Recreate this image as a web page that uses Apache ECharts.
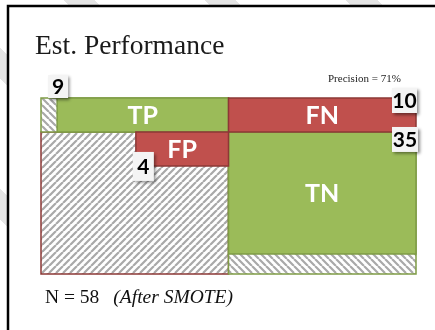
<!DOCTYPE html>
<html>
<head>
<meta charset="utf-8">
<script src="https://cdn.jsdelivr.net/npm/echarts@6/dist/echarts.min.js"></script>
<style>
  html, body { margin: 0; padding: 0; }
  body {
    width: 435px; height: 330px; overflow: hidden;
    background: repeating-linear-gradient(45deg, #ffffff 0px, #ffffff 78px, #e4e4e4 78px, #e4e4e4 100px);
  }
  #chart { width: 435px; height: 330px; }
</style>
</head>
<body>
<div id="chart"></div>
<script>
// Confusion-matrix cells and their counts
const cellNames = ['TP', 'FN', 'FP', 'TN'];
const cellCounts = [9, 10, 4, 35];

// Estimated shares of the mosaic (percent of width / height)
const columnSplit = 50;     // predicted-positive column | predicted-negative column
const topRowShare = 19.3;   // height of the TP / FN row
const tpMissShare = 4.3;    // unrealised part of the TP row
const fpStartShare = 25.3;  // where the FP block starts
const fpRowShare = 38.6;    // bottom of the FP block
const tnShare = 88.6;       // bottom of the TN block

const precisionText = 'Precision = 71%';
const titleText = 'Est. Performance';
const sampleText = 'N = 58';
const sampleNote = '(After SMOTE)';

const GREEN = '#9bbb59', GREEN_EDGE = '#7f9c45';
const RED = '#c0504d', RED_EDGE = '#8c3836';

function hatch(dir) {
  const s = 7;
  const c = document.createElement('canvas');
  c.width = s; c.height = s;
  const g = c.getContext('2d');
  g.fillStyle = '#ffffff';
  g.fillRect(0, 0, s, s);
  g.strokeStyle = '#a9a9a9';
  g.lineWidth = 2.2;
  g.beginPath();
  for (let k = -1; k <= 1; k++) {
    if (dir === '/') {
      g.moveTo(k * s, s); g.lineTo(k * s + s, 0);
    } else {
      g.moveTo(k * s, 0); g.lineTo(k * s + s, s);
    }
  }
  g.stroke();
  return { image: c, repeat: 'repeat' };
}
const hatchUp = hatch('/');
const hatchDown = hatch('\\');

// rectangles: [x0, x1, y0, y1, fillKey, edgeKey, nameIndex]
const rects = [
  [0, columnSplit, topRowShare, 100, 'up', 'red', -1],
  [columnSplit, 100, topRowShare, 100, 'down', 'green', -1],
  [columnSplit, 100, topRowShare, tnShare, 'green', 'green', 3],
  [0, columnSplit, 0, topRowShare, 'down', 'green', -1],
  [tpMissShare, columnSplit, 0, topRowShare, 'green', 'green', 0],
  [columnSplit, 100, 0, topRowShare, 'red', 'red', 1],
  [fpStartShare, columnSplit, topRowShare, fpRowShare, 'red', 'red', 2]
];
const fills = { up: hatchUp, down: hatchDown, green: GREEN, red: RED };
const edges = { green: GREEN_EDGE, red: RED_EDGE };

// count badges: corner they sit on (data space) and box extent around it (px)
const badges = [
  { i: 0, at: [tpMissShare, 0], box: [-9, -23, 20, 23] },
  { i: 1, at: [100, 0], box: [-24, -10, 25, 25] },
  { i: 3, at: [100, topRowShare], box: [-24, -5, 26, 25] },
  { i: 2, at: [fpStartShare, fpRowShare], box: [-3, -14, 21, 29] }
];

const chart = echarts.init(document.getElementById('chart'), null, { renderer: 'canvas' });

const option = {
  backgroundColor: 'transparent',
  animation: false,
  grid: { left: 41, right: 19, top: 98, bottom: 56 },
  xAxis: { type: 'value', min: 0, max: 100, show: false },
  yAxis: { type: 'value', min: 0, max: 100, inverse: true, show: false },
  graphic: [
    { type: 'rect', z: -10, shape: { x: 8, y: 6, width: 500, height: 400 },
      style: { fill: '#ffffff', stroke: '#000000', lineWidth: 2.5 } },
    { type: 'text', left: 35, top: 33,
      style: { text: titleText, font: '27.5px "Liberation Serif"', fill: '#1a1a1a' } },
    { type: 'text', left: 328, top: 74,
      style: { text: precisionText, font: '11px "Liberation Serif"', fill: '#222' } },
    { type: 'text', left: 45, top: 288,
      style: {
        text: '{a|' + sampleText + '}{s| }{b|' + sampleNote + '}',
        rich: {
          a: { font: '19.5px "Liberation Serif"', fill: '#111' },
          s: { font: '19.5px "Liberation Serif"', width: 14 },
          b: { font: 'italic 19.5px "Liberation Serif"', fill: '#111' }
        }
      } }
  ],
  series: [
    {
      type: 'custom',
      data: rects,
      coordinateSystem: 'cartesian2d',
      renderItem: function (params, api) {
        const p0 = api.coord([api.value(0), api.value(2)]);
        const p1 = api.coord([api.value(1), api.value(3)]);
        const r = rects[params.dataIndex];
        const children = [{
          type: 'rect',
          shape: { x: p0[0], y: p0[1], width: p1[0] - p0[0], height: p1[1] - p0[1] },
          style: { fill: fills[r[4]], stroke: edges[r[5]], lineWidth: 1.5 }
        }];
        if (r[6] >= 0) {
          children.push({
            type: 'text',
            style: {
              text: cellNames[r[6]],
              x: (p0[0] + p1[0]) / 2, y: (p0[1] + p1[1]) / 2 + 1,
              align: 'center', verticalAlign: 'middle',
              font: 'bold 25px Lato', fill: '#ffffff'
            }
          });
        }
        return { type: 'group', children: children };
      }
    },
    {
      type: 'custom',
      data: badges.map(b => [b.at[0], b.at[1], cellCounts[b.i]]),
      coordinateSystem: 'cartesian2d',
      z: 5,
      renderItem: function (params, api) {
        const b = badges[params.dataIndex];
        const p = api.coord([api.value(0), api.value(1)]);
        const x = p[0] + b.box[0], y = p[1] + b.box[1];
        return {
          type: 'group',
          children: [
            {
              type: 'rect',
              shape: { x: x, y: y, width: b.box[2], height: b.box[3] },
              style: {
                fill: '#f4f4f4',
                shadowColor: 'rgba(0,0,0,0.45)', shadowBlur: 3,
                shadowOffsetX: 2, shadowOffsetY: 2
              }
            },
            {
              type: 'text',
              style: {
                text: String(api.value(2)),
                x: x + b.box[2] / 2, y: y + b.box[3] / 2 + 1,
                align: 'center', verticalAlign: 'middle',
                font: 'bold 21px Lato', fill: '#000'
              }
            }
          ]
        };
      }
    }
  ]
};
chart.setOption(option);
</script>
</body>
</html>
